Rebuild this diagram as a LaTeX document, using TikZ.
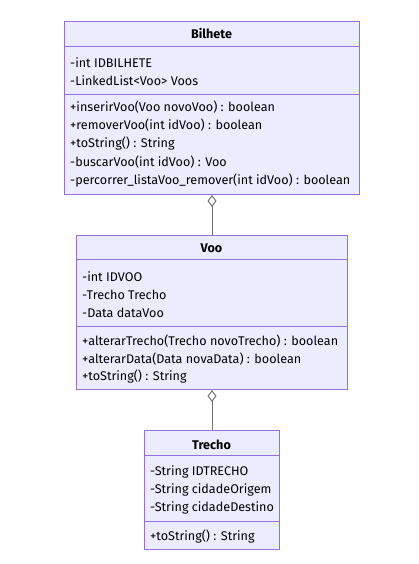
\documentclass[tikz,border=0pt]{standalone}
\usepackage{fontspec}
\setmainfont{Fira Sans}
\usetikzlibrary{arrows.meta,positioning}
\definecolor{classfill}{HTML}{ECECFF}
\definecolor{classline}{HTML}{9370DB}
\colorlet{relline}{black!55}
\begin{document}
\begin{tikzpicture}[x=1pt,y=1pt,
  classbox/.style={draw=classline,fill=classfill,line width=1pt,inner sep=0pt},
  member/.style={anchor=west,inner sep=0pt,font=\fontsize{12.6}{14}\selectfont},
  classtitle/.style={inner sep=0pt,font=\bfseries\fontsize{12.6}{14}\selectfont},
  sepline/.style={draw=classline,line width=1pt},
  aggline/.style={draw=relline,line width=1pt,-{Diamond[open,fill=white,length=12pt,width=9pt]}}]
\useasboundingbox[fill=white] (0,0) rectangle (418,564);
% class boxes
\node[classbox,minimum width=295pt,minimum height=173pt,anchor=north west] (bilhete) at (64,543) {};
\node[classbox,minimum width=271pt,minimum height=154pt,anchor=north west] (voo) at (76,329) {};
\node[classbox,minimum width=135pt,minimum height=119pt,anchor=north west] (trecho) at (144,134) {};
% Bilhete
\node[classtitle] (bilhete-name) at (211.5,530) {Bilhete};
\draw[sepline] (64,517)--(359,517); \draw[sepline] (64,469)--(359,469);
\foreach \t [count=\i] in {-int IDBILHETE,-LinkedList<Voo> Voos}
  \node[member] (bilhete-a\i) at (70,{501.3-18*(\i-1)}) {\t};
\foreach \t [count=\i] in {+inserirVoo(Voo novoVoo) : boolean,+removerVoo(int idVoo) : boolean,
    +toString() : String,-buscarVoo(int idVoo) : Voo,-percorrer\_listaVoo\_remover(int idVoo) : boolean}
  \node[member] (bilhete-m\i) at (70,{457-18.5*(\i-1)}) {\t};
% Voo
\node[classtitle] (voo-name) at (211.5,316) {Voo};
\draw[sepline] (76,304)--(347,304); \draw[sepline] (76,237.3)--(347,237.3);
\foreach \t [count=\i] in {-int IDVOO,-Trecho Trecho,-Data dataVoo}
  \node[member] (voo-a\i) at (82,{287.3-18*(\i-1)}) {\t};
\foreach \t [count=\i] in {+alterarTrecho(Trecho novoTrecho) : boolean,+alterarData(Data novaData) : boolean,+toString() : String}
  \node[member] (voo-m\i) at (82,{223-18*(\i-1)}) {\t};
% Trecho
\node[classtitle] (trecho-name) at (211.5,119) {Trecho};
\draw[sepline] (144,108.3)--(279,108.3); \draw[sepline] (144,42)--(279,42);
\foreach \t [count=\i] in {-String IDTRECHO,-String cidadeOrigem,-String cidadeDestino}
  \node[member] (trecho-a\i) at (150,{92-18*(\i-1)}) {\t};
\node[member] (trecho-m1) at (150,27.3) {+toString() : String};
% aggregations
\draw[aggline] (voo.north)--(bilhete.south);
\draw[aggline] (trecho.north)--(voo.south);
\end{tikzpicture}
\end{document}
